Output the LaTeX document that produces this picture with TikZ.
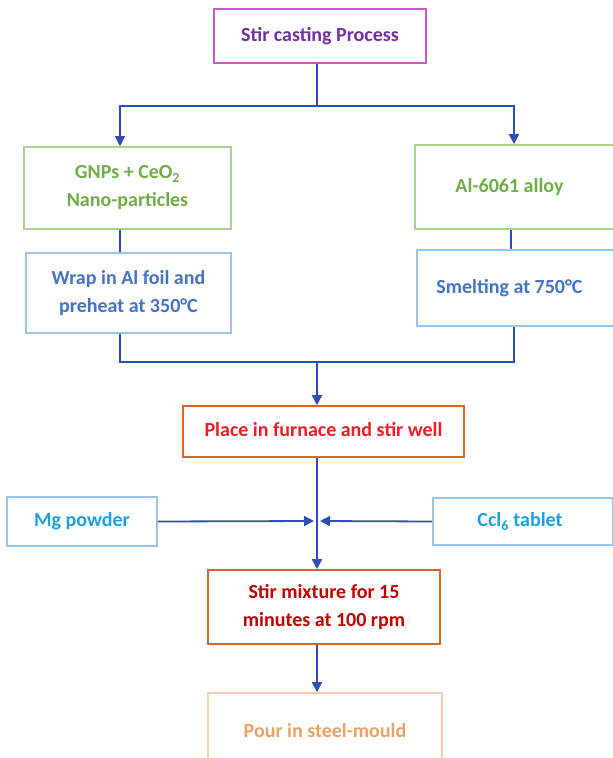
\documentclass[tikz,border=0pt]{standalone}
\usepackage{fontspec}
\setmainfont{Carlito}
\usetikzlibrary{arrows.meta}
\definecolor{cTopB}{HTML}{CC55C8}
\definecolor{cTopT}{HTML}{7030A0}
\definecolor{cGrB}{HTML}{A9D18E}
\definecolor{cGrT}{HTML}{70AD47}
\definecolor{cBlB}{HTML}{9DC3E6}
\definecolor{cBlT}{HTML}{4472C4}
\definecolor{cOrB}{HTML}{D0692A}
\definecolor{cRed}{HTML}{EE1C25}
\definecolor{cCyT}{HTML}{1EA0E0}
\definecolor{cDrT}{HTML}{C00000}
\definecolor{cPeB}{HTML}{F8CBAD}
\definecolor{cPeT}{HTML}{EDA066}
\definecolor{cLine}{HTML}{2E4DB5}
\tikzset{
  box/.style={draw, line width=1.6pt, fill=white, align=center, inner sep=0pt,
    font=\fontsize{20}{28}\selectfont\bfseries},
  conn/.style={draw=cLine, line width=1.8pt},
  arr/.style={conn, -{Triangle[length=10pt,width=10pt]}}
}
\begin{document}
\begin{tikzpicture}[x=1pt,y=-1pt]
\useasboundingbox (0,0) rectangle (613,758);
\begin{scope}
\clip (0,0) rectangle (613,758);
\node[box, draw=cTopB, text=cTopT, minimum width=212pt, minimum height=54pt] (top) at (320,36) {Stir casting Process};
\node[box, draw=cGrB, text=cGrT, minimum width=207pt, minimum height=82pt] (gnp) at (127.5,188) {GNPs + CeO\textsubscript{2}\\Nano-particles};
\node[box, draw=cBlB, text=cBlT, minimum width=205pt, minimum height=80pt] (wrap) at (128.5,293) {Wrap in Al foil and\\preheat at 350°C};
\node[box, draw=cGrB, text=cGrT, minimum width=199pt, minimum height=84pt] (al) at (514.5,187) {\hspace*{-10pt}Al-6061 alloy};
\node[box, draw=cBlB, text=cBlT, minimum width=197pt, minimum height=76pt] (smelt) at (515.5,288) {\hspace*{-12pt}Smelting at 750°C};
\node[box, draw=cOrB, text=cRed, minimum width=281pt, minimum height=51pt] (place) at (323.5,431.5) {\raisebox{5pt}{Place in furnace and stir well}};
\node[box, draw=cBlB, text=cCyT, minimum width=150pt, minimum height=49pt] (mg) at (82,521.5) {Mg powder};
\node[box, draw=cBlB, text=cCyT, minimum width=180pt, minimum height=47pt] (ccl) at (523,521.5) {\hspace*{-6pt}Ccl\textsubscript{6} tablet};
\node[box, draw=cOrB, text=cDrT, minimum width=232pt, minimum height=74pt] (stir) at (324,607) {Stir mixture for 15\\minutes at 100 rpm};
\node[box, draw=cPeB, text=cPeT, minimum width=234pt, minimum height=80pt] (pour) at (325,733) {\raisebox{5pt}{Pour in steel-mould}};
\end{scope}
\coordinate (j1) at (317,106);
\coordinate (j2) at (317,362);
\coordinate (j3) at (317,521);
\draw[conn] (top.south -| j1) -- (j1);
\draw[arr] (j1) -| ([xshift=-7.5pt]gnp.north);
\draw[arr] (j1) -| ([xshift=-0.5pt]al.north);
\draw[conn] ([xshift=-7.5pt]gnp.south) -- ([xshift=-8.5pt]wrap.north);
\draw[conn] ([xshift=-3.5pt]al.south) -- ([xshift=-4.5pt]smelt.north);
\draw[conn] ([xshift=-8.5pt]wrap.south) |- (j2) -| ([xshift=-1.5pt]smelt.south);
\draw[arr] (j2) -- (place.north -| j2);
\draw[arr] (place.south -| j2) -- (stir.north -| j2);
\draw[arr] (mg.east) -- ([xshift=-3pt]j3);
\draw[arr] (ccl.west) -- ([xshift=3pt]j3);
\draw[arr] (stir.south -| j2) -- (pour.north -| j2);
\end{tikzpicture}
\end{document}
